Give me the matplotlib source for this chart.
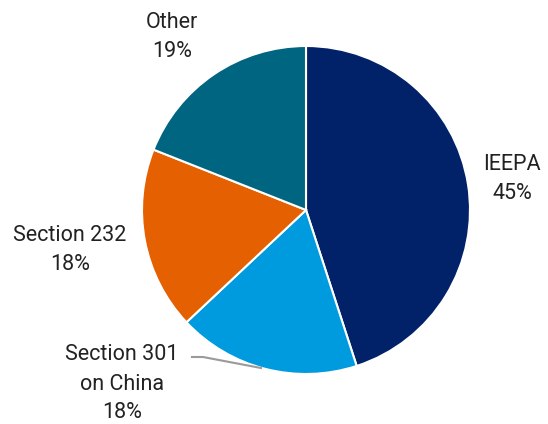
import matplotlib
matplotlib.use("Agg")
import matplotlib.pyplot as plt
import numpy as np

categories = ["IEEPA", "Section 301\non China", "Section 232", "Other"]
values = [45, 18, 18, 19]
colors = ["#012169", "#009ADE", "#E56000", "#006580"]

plt.rcParams['font.family'] = ['Roboto', 'DejaVu Sans']

W, H = 548, 424
fig = plt.figure(figsize=(W / 100, H / 100), dpi=100)
ax = fig.add_axes([0, 0, 1, 1])

cx, cy, r = 306, 210, 164
# y axis inverted -> counterclock=True appears clockwise; startangle mirrored
wedges, _ = ax.pie(values, colors=colors, startangle=-90, counterclock=True,
                   center=(cx, cy), radius=r, frame=True,
                   wedgeprops=dict(edgecolor='white', linewidth=1.5))
ax.set_xlim(0, W)
ax.set_ylim(H, 0)
ax.set_aspect('equal')
ax.axis('off')

fs = 15.5
txt = dict(ha='center', va='center', fontsize=fs, color='#222222',
           linespacing=1.5, fontweight='normal')
labels = [f"{c}\n{v}%" for c, v in zip(categories, values)]
ax.text(512, 179, labels[0], **txt)
ax.text(122, 384, labels[1], **txt)
ax.text(70, 250, labels[2], **txt)
ax.text(172, 37, labels[3], **txt)

# leader line for Section 301
ax.plot([192, 203, 261], [357, 357, 368], color='#9a9a9a', lw=1.5)

fig.savefig("out.png", dpi=100)
